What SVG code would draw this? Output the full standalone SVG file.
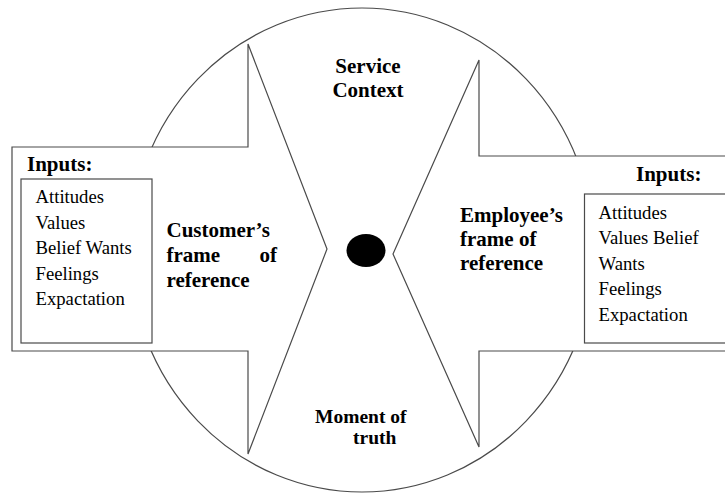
<svg xmlns="http://www.w3.org/2000/svg" width="725" height="493" viewBox="0 0 725 493">
  <style>
    .line { fill: none; stroke: #4a4a4a; stroke-width: 1.2; }
    .shape { fill: #ffffff; stroke: #4a4a4a; stroke-width: 1.2; }
    .bold { font-family: "Liberation Serif", "Times New Roman", serif; font-weight: bold; font-size: 21px; fill: #000; }
    .item { font-family: "Liberation Serif", "Times New Roman", serif; font-size: 18.7px; fill: #000; }
    .label { font-family: "Liberation Serif", "Times New Roman", serif; font-weight: bold; font-size: 19.5px; fill: #000; }
  </style>
  <rect x="0" y="0" width="725" height="493" fill="#ffffff"/>

  <!-- service context ellipse -->
  <g id="service-context">
    <ellipse class="line" cx="362" cy="250" rx="232" ry="242"/>
    <text class="bold" x="368" y="73" text-anchor="middle">Service</text>
    <text class="bold" x="368" y="97" text-anchor="middle">Context</text>
  </g>

  <g id="moment-of-truth">
    <ellipse cx="366" cy="250.5" rx="19.5" ry="16.5" fill="#000"/>
    <text class="label" x="315" y="422.5">Moment of</text>
    <text class="label" x="353" y="443.5">truth</text>
  </g>

  <!-- customer arrow, pointing right -->
  <g id="customer">
    <polygon class="shape" points="12,147 248,147 248,44 327,249 248,454 248,351 12,351"/>
    <text class="bold" x="27" y="171">Inputs:</text>
    <rect class="shape" x="21" y="179" width="131" height="164"/>
    <text class="item" x="35.5" y="203">Attitudes</text>
    <text class="item" x="35.5" y="228.5">Values</text>
    <text class="item" x="35.5" y="254">Belief Wants</text>
    <text class="item" x="35.5" y="279.5">Feelings</text>
    <text class="item" x="35.5" y="305">Expactation</text>
    <text class="bold" x="166.5" y="237">Customer’s</text>
    <text class="bold" x="166.5" y="262">frame</text>
    <text class="bold" x="277" y="262" text-anchor="end">of</text>
    <text class="bold" x="166.5" y="286.5">reference</text>
  </g>

  <!-- employee arrow, pointing left -->
  <g id="employee">
    <polygon class="shape" points="730,156 479,156 479,60 393,254 479,447 479,351 730,351"/>
    <text class="bold" x="636" y="180.5">Inputs:</text>
    <rect class="shape" x="584.5" y="194" width="150" height="149"/>
    <text class="item" x="598.5" y="218.5">Attitudes</text>
    <text class="item" x="598.5" y="243.5">Values Belief</text>
    <text class="item" x="598.5" y="269.5">Wants</text>
    <text class="item" x="598.5" y="295">Feelings</text>
    <text class="item" x="598.5" y="320.5">Expactation</text>
    <text class="bold" x="460" y="222">Employee’s</text>
    <text class="bold" x="460" y="245.5">frame of</text>
    <text class="bold" x="460" y="269.5">reference</text>
  </g>
</svg>
